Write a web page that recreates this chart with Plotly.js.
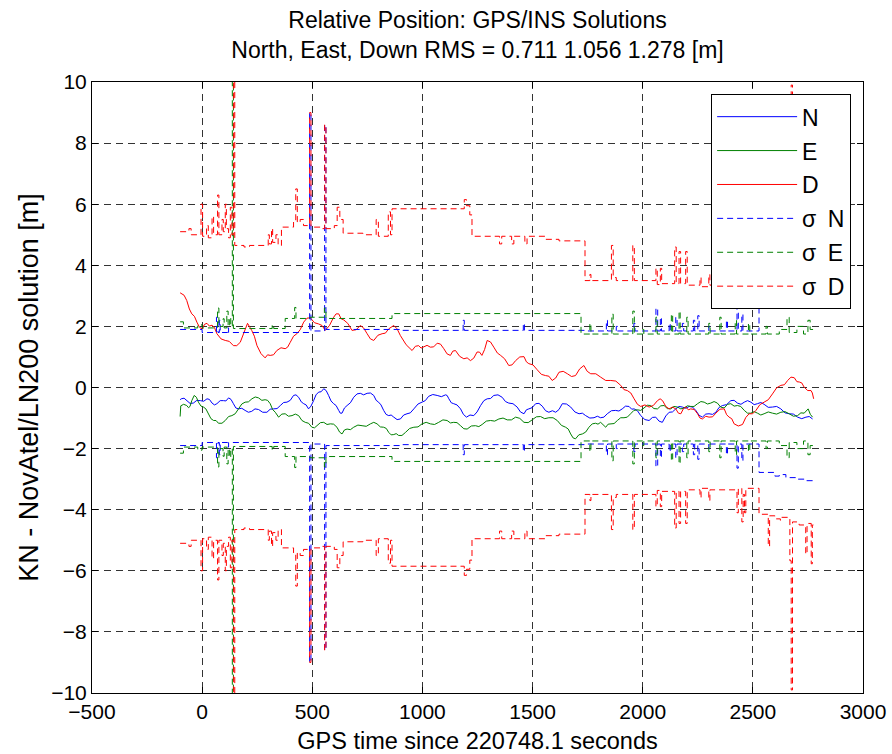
<!DOCTYPE html>
<html>
<head>
<meta charset="utf-8">
<script src="https://cdn.plot.ly/plotly-3.0.1.min.js"></script>
<style>html,body{margin:0;padding:0;background:#fff;}#chart{width:892px;height:754px;}</style>
</head>
<body>
<div id="chart"></div>
<script>
// ---- Data ----
// N, E, D errors: main readings
const tN = [-100,-95,-70,-40,-8,22,45,67,97,120,142,165,195,225,256,294,324,355,385,415,438,461,483,506,529,552,574,597,620,635,658,688,718,749,779,801,824,847,870,900,930,961,998,1028,1067,1105,1120,1142,1173,1200,1233,1264,1294,1324,1362,1392,1430,1461,1483,1514,1544,1574,1605,1635,1673,1711,1741,1779,1809,1839,1877,1907,1938,1961,1991,2029,2059,2089,2120,2150,2180,2211,2241,2271,2301,2332,2362,2400,2430,2461,2491,2521,2551,2589,2627,2665,2703,2741,2771];
const vN = [-0.40,-0.37,-0.43,-0.51,-0.43,-0.37,-0.51,-0.53,-0.43,-0.34,-0.53,-0.70,-0.75,-0.78,-0.72,-0.81,-0.70,-0.59,-0.48,-0.26,-0.32,-0.53,-0.70,-0.43,-0.15,-0.04,-0.26,-0.53,-0.75,-0.84,-0.59,-0.32,-0.19,-0.19,-0.26,-0.48,-0.75,-0.92,-0.97,-1.03,-0.86,-0.70,-0.48,-0.29,-0.26,-0.24,-0.37,-0.53,-0.70,-0.97,-0.92,-0.59,-0.37,-0.26,-0.32,-0.51,-0.64,-0.86,-0.70,-0.53,-0.61,-0.81,-0.81,-0.53,-0.64,-0.86,-0.92,-0.99,-0.99,-0.86,-0.75,-0.70,-0.62,-0.70,-0.92,-1.08,-0.97,-1.14,-0.81,-0.70,-0.64,-0.62,-0.75,-0.97,-0.86,-0.81,-0.59,-0.43,-0.51,-0.48,-0.48,-0.53,-0.55,-0.64,-0.70,-0.86,-0.97,-0.97,-1.03];
// N: in-between readings (small-scale roughness)
const tN2 = [-82,-55,-24,7,33,56,82,108,131,153,180,210,240,275,309,340,370,400,426,450,472,494,517,540,563,585,608,627,646,673,703,733,764,790,812,835,858,885,915,945,980,1013,1047,1086,1112,1131,1157,1186,1216,1248,1279,1309,1343,1377,1411,1445,1472,1498,1529,1559,1590,1620,1654,1692,1726,1760,1794,1824,1858,1892,1922,1950,1976,2010,2044,2074,2105,2135,2165,2196,2226,2256,2286,2317,2347,2381,2415,2446,2476,2506,2536,2570,2608,2646,2684,2722,2756];
const vN2 = [-0.35,-0.52,-0.42,-0.45,-0.39,-0.57,-0.43,-0.44,-0.39,-0.67,-0.68,-0.81,-0.70,-0.81,-0.71,-0.69,-0.49,-0.42,-0.24,-0.47,-0.57,-0.61,-0.24,-0.14,-0.10,-0.44,-0.59,-0.84,-0.67,-0.50,-0.21,-0.24,-0.18,-0.42,-0.57,-0.88,-0.90,-1.05,-0.90,-0.83,-0.54,-0.43,-0.23,-0.30,-0.26,-0.50,-0.57,-0.88,-0.90,-0.80,-0.43,-0.36,-0.24,-0.46,-0.53,-0.80,-0.73,-0.66,-0.52,-0.76,-0.76,-0.72,-0.54,-0.80,-0.84,-1.00,-0.94,-0.97,-0.76,-0.77,-0.61,-0.71,-0.76,-1.05,-0.98,-1.10,-0.93,-0.80,-0.62,-0.68,-0.64,-0.91,-0.87,-0.88,-0.65,-0.56,-0.42,-0.55,-0.43,-0.56,-0.49,-0.65,-0.62,-0.83,-0.87,-1.02,-0.95];

const tE = [-100,-97,-70,-55,-47,-36,-17,6,29,52,74,105,135,165,195,226,256,286,309,332,347,377,408,438,468,498,521,552,582,612,635,658,688,726,764,794,824,847,870,892,923,961,998,1036,1074,1112,1142,1173,1203,1241,1271,1309,1347,1385,1423,1461,1498,1536,1574,1612,1650,1673,1695,1726,1756,1786,1809,1832,1855,1885,1915,1945,1976,2006,2036,2067,2097,2127,2158,2188,2218,2249,2279,2309,2339,2370,2400,2430,2461,2491,2521,2551,2589,2627,2665,2703,2733,2751,2771];
const vE = [-0.95,-0.60,-0.59,-0.62,-0.43,-0.26,-0.48,-0.64,-0.86,-1.08,-1.17,-1.08,-0.92,-0.70,-0.48,-0.37,-0.34,-0.40,-0.53,-0.81,-0.97,-0.86,-0.92,-0.92,-1.14,-1.30,-1.25,-1.14,-1.19,-1.30,-1.52,-1.36,-1.30,-1.25,-1.19,-1.19,-1.30,-1.47,-1.54,-1.57,-1.47,-1.30,-1.19,-1.19,-1.14,-1.08,-1.14,-1.25,-1.36,-1.25,-1.21,-1.08,-1.03,-1.06,-0.97,-1.14,-1.06,-0.95,-0.99,-1.08,-1.30,-1.52,-1.68,-1.52,-1.30,-1.17,-1.14,-1.30,-1.19,-1.08,-0.99,-0.86,-0.73,-0.67,-0.59,-0.70,-0.59,-0.70,-0.64,-0.67,-0.62,-0.53,-0.48,-0.51,-0.51,-0.67,-0.53,-0.59,-0.75,-0.84,-0.84,-0.86,-0.84,-0.81,-0.86,-0.92,-0.84,-0.70,-0.97];
const tE2 = [-84,-62,-26,-5,17,40,63,90,120,150,180,210,241,271,297,320,362,392,423,453,483,510,537,567,597,624,646,673,707,745,779,809,836,858,881,907,942,980,1017,1055,1093,1127,1157,1188,1222,1256,1290,1328,1366,1404,1442,1480,1517,1555,1593,1631,1662,1684,1710,1741,1771,1797,1843,1870,1900,1930,1960,1991,2021,2051,2082,2112,2142,2173,2203,2233,2264,2294,2324,2354,2385,2415,2445,2476,2506,2536,2570,2608,2646,2684,2718,2761];
const vE2 = [-0.55,-0.66,-0.32,-0.61,-0.70,-1.02,-1.08,-1.17,-0.95,-0.86,-0.54,-0.47,-0.31,-0.42,-0.42,-0.72,-0.87,-0.94,-0.87,-1.08,-1.17,-1.32,-1.15,-1.21,-1.20,-1.46,-1.39,-1.38,-1.23,-1.27,-1.14,-1.29,-1.34,-1.55,-1.51,-1.57,-1.34,-1.29,-1.14,-1.21,-1.06,-1.16,-1.15,-1.35,-1.26,-1.28,-1.10,-1.10,-1.00,-1.06,-1.01,-1.15,-0.96,-1.02,-0.99,-1.24,-1.36,-1.65,-1.55,-1.46,-1.19,-1.20,-1.20,-1.18,-0.99,-0.97,-0.75,-0.75,-0.58,-0.69,-0.60,-0.69,-0.62,-0.70,-0.60,-0.62,-0.46,-0.54,-0.46,-0.64,-0.55,-0.61,-0.62,-0.84,-0.79,-0.90,-0.80,-0.87,-0.79,-0.94,-0.83,-0.88];

const tD = [-100,-95,-70,-47,-24,0,22,45,67,105,142,173,188,206,225,249,286,309,339,377,400,430,461,491,529,559,597,620,643,680,718,749,779,817,847,870,900,953,983,1006,1036,1067,1097,1127,1150,1188,1218,1248,1270,1294,1324,1355,1392,1423,1461,1483,1521,1559,1589,1620,1658,1695,1733,1764,1809,1855,1900,1930,1961,1991,2029,2067,2090,2120,2150,2173,2196,2218,2249,2271,2301,2332,2370,2392,2415,2453,2483,2514,2551,2589,2627,2658,2688,2711,2733,2764,2776];
const vD = [3.10,3.08,2.85,2.41,2.14,1.92,2.10,2.04,1.76,1.54,1.37,1.48,1.76,2.10,1.87,1.37,0.97,1.05,1.21,1.27,1.48,1.76,2.14,2.28,2.08,1.87,2.30,2.41,2.21,1.87,2.03,1.76,1.54,1.76,1.92,2.03,1.70,1.21,1.37,1.32,1.32,1.45,1.27,1.05,1.21,0.94,0.88,1.16,1.05,1.54,1.32,1.05,0.72,0.88,1.01,0.78,0.58,0.39,0.23,0.50,0.45,0.39,0.72,0.45,0.34,0.23,0.07,-0.10,-0.37,-0.62,-0.64,-0.43,-0.43,-0.70,-0.70,-0.86,-0.64,-0.70,-0.86,-1.03,-0.97,-0.84,-0.70,-0.97,-1.19,-1.21,-0.86,-0.75,-0.48,-0.21,0.07,0.23,0.32,0.18,0.01,-0.10,-0.37];
const tD2 = [-82,-58,-35,-12,11,33,56,86,123,157,237,267,297,324,358,388,415,445,476,510,544,578,608,631,661,699,733,764,798,832,885,926,968,994,1021,1051,1082,1112,1138,1169,1203,1233,1259,1282,1309,1340,1373,1407,1442,1472,1502,1540,1574,1605,1639,1677,1714,1748,1787,1832,1878,1915,1946,1976,2010,2048,2079,2105,2135,2162,2185,2207,2234,2260,2286,2317,2351,2381,2404,2434,2468,2499,2532,2570,2608,2643,2673,2700,2722,2749,2770];
const vD2 = [3.02,2.57,2.33,1.97,2.07,2.01,1.96,1.59,1.51,1.37,1.68,1.11,1.07,1.07,1.30,1.32,1.68,1.89,2.27,2.12,2.03,2.03,2.41,2.25,2.10,1.89,1.95,1.59,1.71,1.78,1.92,1.40,1.35,1.29,1.38,1.33,1.42,1.10,1.19,1.02,0.97,0.96,1.16,1.24,1.49,1.13,0.94,0.74,1.00,0.84,0.74,0.43,0.37,0.31,0.53,0.36,0.61,0.53,0.45,0.23,0.21,-0.07,-0.18,-0.55,-0.57,-0.59,-0.37,-0.62,-0.64,-0.84,-0.69,-0.73,-0.72,-1.00,-0.94,-0.96,-0.71,-0.89,-1.02,-1.26,-0.98,-0.86,-0.56,-0.40,-0.01,0.09,0.34,0.19,0.15,-0.10,-0.18];

// 1-sigma values (step-wise, plotted as +sigma and -sigma)
const tSN = [-100,0,65,72,78,82,115,120,488,494,556,562,900,1185,1190,1458,1463,1735,1835,1840,1880,1885,1960,1965,2060,2068,2080,2085,2120,2125,2150,2156,2180,2186,2230,2236,2250,2256,2300,2305,2380,2385,2428,2434,2450,2455,2528,2600,2620,2650,2700,2740,2775];
const vSN = [1.90,1.80,2.30,1.80,2.20,1.80,1.95,1.80,9.0,1.85,8.6,1.90,1.87,2.2,1.87,2.1,1.87,1.85,2.2,1.85,2.0,1.85,2.1,1.85,2.6,1.85,2.3,1.85,2.1,1.85,2.3,1.85,2.1,1.85,2.2,1.85,2.35,1.85,2.0,1.85,2.2,1.85,2.64,1.85,2.4,1.85,2.78,2.9,2.85,2.95,3.0,3.05,3.05];

const tSE = [-100,-85,-20,0,70,76,95,100,112,118,125,130,137,142,318,325,377,420,426,489,555,562,862,1720,1760,1765,1860,1866,1955,1962,2000,2005,2060,2066,2130,2136,2165,2170,2200,2206,2300,2306,2350,2356,2420,2426,2480,2486,2560,2566,2620,2655,2665,2700,2730,2750,2760,2775];
const vSE = [2.15,1.95,2.05,1.95,2.6,2.0,2.25,1.95,2.5,2.0,2.3,2.0,12,1.93,2.05,1.93,2.26,2.62,2.26,2.3,2.6,2.26,2.42,1.75,2.1,1.75,2.4,1.75,2.5,1.75,1.9,1.75,2.3,1.75,2.4,1.75,2.5,1.75,2.3,1.75,2.1,1.75,2.3,1.75,2.2,1.75,2.1,1.75,2.0,1.75,1.9,2.3,1.8,2.0,1.75,2.2,1.9,1.9];

const tSD = [-100,-60,-50,-5,2,20,28,45,52,70,76,90,96,105,110,120,128,135,143,148,190,215,300,305,315,320,335,345,360,415,425,432,445,460,488,494,540,556,562,600,613,625,640,730,790,800,845,855,862,1190,1200,1215,1225,1350,1360,1405,1415,1465,1475,1560,1620,1738,1760,1765,1858,1866,1880,1955,1962,1985,2060,2066,2080,2086,2145,2152,2165,2172,2195,2202,2260,2265,2300,2305,2428,2434,2450,2456,2462,2468,2528,2570,2576,2600,2625,2630,2668,2674,2680,2700,2710,2740,2746,2765,2770,2775];
const vSD = [5.1,5.2,5.0,6.0,4.95,5.3,4.9,5.6,5.0,6.3,5.0,5.5,5.1,6.0,5.2,4.9,5.9,5.0,12,4.65,4.6,4.65,5.0,4.7,5.2,4.75,5.0,4.65,5.25,5.45,6.5,5.4,5.5,5.3,9.0,5.25,5.2,8.6,5.2,5.3,5.9,5.5,5.05,5.0,5.5,4.95,5.75,5.0,5.85,6.15,5.95,5.65,4.95,4.7,4.95,4.7,4.95,4.7,4.95,4.85,4.8,3.5,3.7,3.5,4.65,3.6,3.5,4.65,3.5,3.5,3.9,3.37,3.9,3.4,4.6,3.4,4.45,3.4,4.45,3.35,3.6,3.3,3.7,3.35,4.1,3.3,4.4,3.5,4.1,3.3,4.15,5.2,4.2,4.3,4.35,4.25,5.67,9.9,4.4,4.4,4.5,5.45,4.45,5.77,4.5,4.5];

const legendNames = ['N','E','D','σ\u2002N','σ\u2002E','σ\u2002D'];
const colors = {N:'#0000ff', E:'#008000', D:'#ff0000'};

// merge main and in-between readings into one time-ordered series
function merge(t1, v1, t2, v2){
  const pts = t1.map((t,i)=>[t, v1[i]]).concat(t2.map((t,i)=>[t, v2[i]]));
  pts.sort((a,b)=>a[0]-b[0]);
  return {x: pts.map(p=>p[0]), y: pts.map(p=>p[1])};
}
const N = merge(tN, vN, tN2, vN2);
const E = merge(tE, vE, tE2, vE2);
const D = merge(tD, vD, tD2, vD2);

const neg = a => a.map(v => -v);
const dashStyle = '6px,4px';

function solid(s, name, color, grp){
  return {type:'scatter', mode:'lines', x:s.x, y:s.y, name:name, legendgroup:grp,
          line:{color:color, width:1}, hoverinfo:'skip'};
}
function sig(x, y, name, color, grp, show){
  return {type:'scatter', mode:'lines', x:x, y:y, name:name, legendgroup:grp, showlegend:show,
          line:{color:color, width:1, dash:dashStyle, shape:'hv'}, hoverinfo:'skip'};
}

const data = [
  solid(N, legendNames[0], colors.N, 'g1'),
  solid(E, legendNames[1], colors.E, 'g2'),
  solid(D, legendNames[2], colors.D, 'g3'),
  sig(tSN, vSN, legendNames[3], colors.N, 'g4', true),
  sig(tSE, vSE, legendNames[4], colors.E, 'g5', true),
  sig(tSD, vSD, legendNames[5], colors.D, 'g6', true),
  sig(tSN, neg(vSN), legendNames[3], colors.N, 'g4', false),
  sig(tSE, neg(vSE), legendNames[4], colors.E, 'g5', false),
  sig(tSD, neg(vSD), legendNames[5], colors.D, 'g6', false)
];

const font = 'Liberation Sans, Arial, sans-serif';
const axisCommon = {
  showline:true, linecolor:'#000', linewidth:1, mirror:'ticks',
  ticks:'inside', ticklen:6, tickcolor:'#000', tickwidth:1,
  showgrid:true, gridcolor:'rgba(0,0,0,0.8)', gridwidth:1, griddash:'7px,5px',
  zeroline:false, tickfont:{family:font, size:21, color:'#000'}
};

const layout = {
  width:892, height:754,
  margin:{l:92, r:29, t:82, b:61},
  paper_bgcolor:'#fff', plot_bgcolor:'#fff',
  font:{family:font, color:'#000'},
  title:{text:'Relative Position: GPS/INS Solutions<br>North, East, Down RMS = 0.711 1.056 1.278 [m]',
         font:{family:font, size:23, color:'#000'}, x:0.5, xref:'paper', xanchor:'center',
         y:0.963, yref:'container', yanchor:'top'},
  xaxis:Object.assign({}, axisCommon, {range:[-500,3000], tick0:-500, dtick:500,
         title:{text:'GPS time since 220748.1 seconds', font:{family:font, size:23.5, color:'#000'}, standoff:10}}),
  yaxis:Object.assign({}, axisCommon, {range:[-10,10], tick0:-10, dtick:2,
         title:{text:'KN - NovAtel/LN200 solution [m]', font:{family:font, size:27, color:'#000'}, standoff:4}}),
  showlegend:true,
  legend:{x:0.803, y:0.980, xanchor:'left', yanchor:'top', bgcolor:'#fff', bordercolor:'#000', borderwidth:1,
          font:{family:font, size:23, color:'#000'}, itemwidth:80, traceorder:'grouped', tracegroupgap:1}
};

Plotly.newPlot('chart', data, layout, {staticPlot:true, displayModeBar:false});
</script>
</body>
</html>
